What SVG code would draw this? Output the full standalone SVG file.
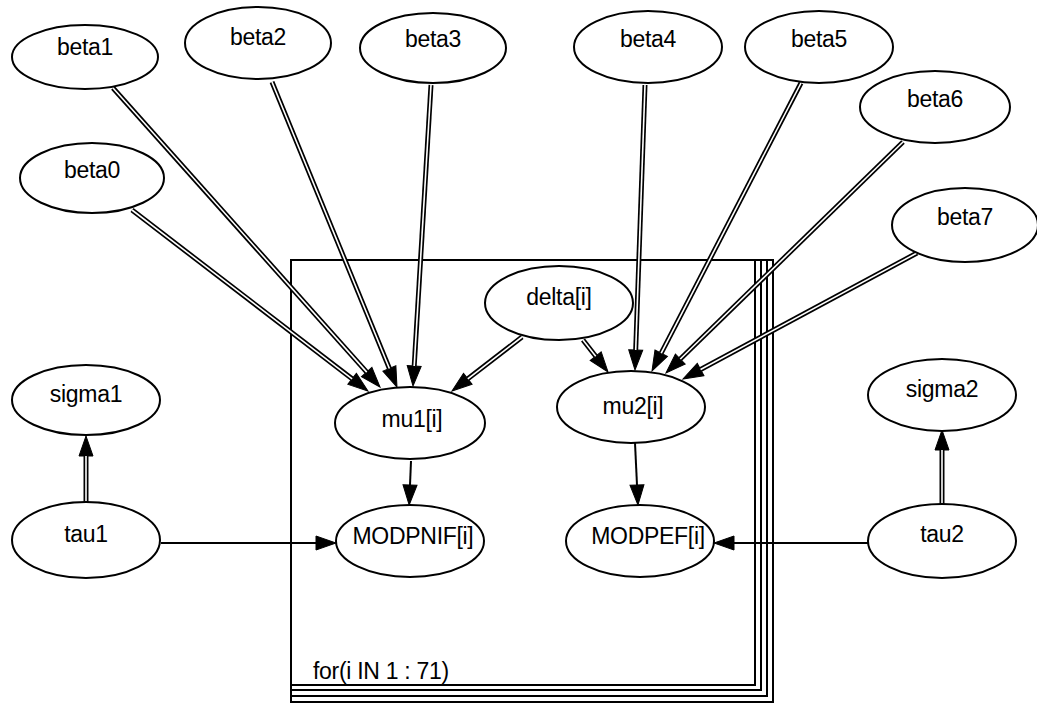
<svg xmlns="http://www.w3.org/2000/svg" width="1037" height="703" viewBox="0 0 1037 703">
<style>
.n ellipse{fill:#fff;stroke:#000;stroke-width:2}
.n text{font-family:"Liberation Sans",Arial,sans-serif;font-size:23px;text-anchor:middle;fill:#000;letter-spacing:-0.3px}
.d1{fill:none;stroke:#000;stroke-width:5}
.d2{fill:none;stroke:#fff;stroke-width:1.6}
.s{fill:none;stroke:#000;stroke-width:2}
.plate{fill:none;stroke:#000;stroke-width:2}
.pl{font-family:"Liberation Sans",Arial,sans-serif;font-size:23px;fill:#000;letter-spacing:-0.3px}
</style>
<defs>
<marker id="ah" markerUnits="userSpaceOnUse" markerWidth="20" markerHeight="14" refX="0" refY="7" orient="auto" overflow="visible">
<path d="M0,0 L20,7 L0,14 z" fill="#000" stroke="#000" stroke-width="1"/>
</marker>
</defs>
<rect width="1037" height="703" fill="#fff"/>
<g id="plate">
<rect class="plate" x="291" y="260" width="482" height="442"/>
<rect class="plate" x="291" y="260" width="476" height="436" fill="#fff"/>
<rect class="plate" x="291" y="260" width="470" height="430" fill="#fff"/>
<rect class="plate" x="291" y="260" width="464" height="425" fill="#fff"/>
<text class="pl" x="313" y="679">for(i IN 1 : 71)</text>
</g>
<g id="connectors">
<path class="d1" d="M132,210 L352.1,378.8" marker-end="url(#ah)"/><path class="d2" d="M132,210 L352.1,378.8"/>
<path class="d1" d="M113,88 L366.7,372.1" marker-end="url(#ah)"/><path class="d2" d="M113,88 L366.7,372.1"/>
<path class="d1" d="M272,82 L389.4,368.5" marker-end="url(#ah)"/><path class="d2" d="M272,82 L389.4,368.5"/>
<path class="d1" d="M431,85 L414.2,366" marker-end="url(#ah)"/><path class="d2" d="M431,85 L414.2,366"/>
<path class="d1" d="M522,337 L467.8,378.8" marker-end="url(#ah)"/><path class="d2" d="M522,337 L467.8,378.8"/>
<path class="d1" d="M583,340 L595.7,356.2" marker-end="url(#ah)"/><path class="d2" d="M583,340 L595.7,356.2"/>
<path class="d1" d="M645,85 L635.7,350" marker-end="url(#ah)"/><path class="d2" d="M645,85 L635.7,350"/>
<path class="d1" d="M801,83 L661.2,353.2" marker-end="url(#ah)"/><path class="d2" d="M801,83 L661.2,353.2"/>
<path class="d1" d="M903,142 L680.3,359" marker-end="url(#ah)"/><path class="d2" d="M903,142 L680.3,359"/>
<path class="d1" d="M917,253 L700.6,369.5" marker-end="url(#ah)"/><path class="d2" d="M917,253 L700.6,369.5"/>
<path class="d1" d="M86,503 L86,456" marker-end="url(#ah)"/><path class="d2" d="M86,503 L86,456"/>
<path class="d1" d="M942,505 L942,450" marker-end="url(#ah)"/><path class="d2" d="M942,505 L942,450"/>
<path class="s" d="M411,461 L410,485" marker-end="url(#ah)"/>
<path class="s" d="M635,443 L637,485" marker-end="url(#ah)"/>
<path class="s" d="M161,543 L316,543" marker-end="url(#ah)"/>
<path class="s" d="M868,543 L734,543" marker-end="url(#ah)"/>
</g>
<g id="beta1" class="n"><ellipse cx="85" cy="57" rx="73" ry="32"/><text x="85" y="55">beta1</text></g>
<g id="beta2" class="n"><ellipse cx="258" cy="43" rx="73" ry="36"/><text x="258" y="45">beta2</text></g>
<g id="beta3" class="n"><ellipse cx="433" cy="48" rx="73" ry="35"/><text x="433" y="47">beta3</text></g>
<g id="beta4" class="n"><ellipse cx="648" cy="47" rx="74" ry="36"/><text x="648" y="47">beta4</text></g>
<g id="beta5" class="n"><ellipse cx="819" cy="47" rx="74" ry="36"/><text x="819" y="47">beta5</text></g>
<g id="beta6" class="n"><ellipse cx="935" cy="107" rx="75" ry="36"/><text x="935" y="107">beta6</text></g>
<g id="beta7" class="n"><ellipse cx="965" cy="225" rx="73" ry="37"/><text x="965" y="225">beta7</text></g>
<g id="beta0" class="n"><ellipse cx="92" cy="178" rx="72" ry="35"/><text x="92" y="178">beta0</text></g>
<g id="delta" class="n"><ellipse cx="559" cy="303" rx="74" ry="37"/><text x="559" y="305">delta[i]</text></g>
<g id="mu1" class="n"><ellipse cx="410" cy="423" rx="75" ry="36"/><text x="412" y="427">mu1[i]</text></g>
<g id="mu2" class="n"><ellipse cx="631" cy="407" rx="74" ry="36"/><text x="633" y="414">mu2[i]</text></g>
<g id="MODPNIF" class="n"><ellipse cx="410" cy="541" rx="74" ry="36"/><text x="413" y="544">MODPNIF[i]</text></g>
<g id="MODPEF" class="n"><ellipse cx="640" cy="541" rx="74" ry="36"/><text x="648" y="544">MODPEF[i]</text></g>
<g id="sigma1" class="n"><ellipse cx="86" cy="400" rx="74" ry="35"/><text x="86" y="402">sigma1</text></g>
<g id="tau1" class="n"><ellipse cx="86" cy="540" rx="74" ry="38"/><text x="86" y="542">tau1</text></g>
<g id="sigma2" class="n"><ellipse cx="942" cy="395" rx="74" ry="36"/><text x="942" y="397">sigma2</text></g>
<g id="tau2" class="n"><ellipse cx="942" cy="541" rx="74" ry="37"/><text x="942" y="542">tau2</text></g>
</svg>
